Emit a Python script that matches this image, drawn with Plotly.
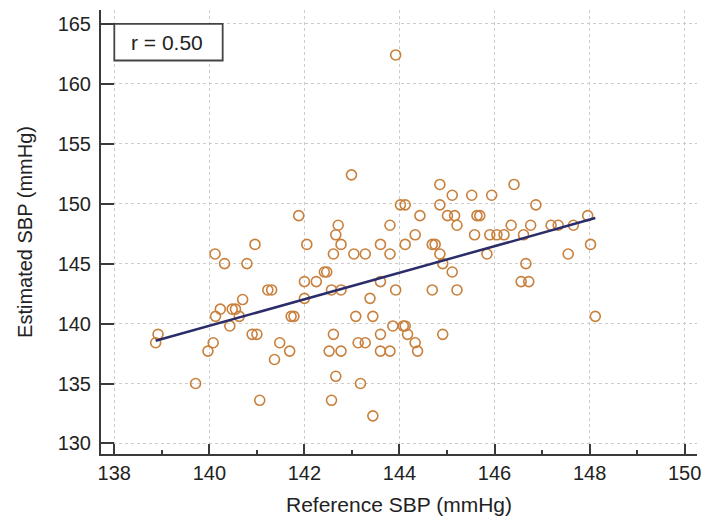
import numpy as np
import plotly.graph_objects as go

# Reference vs. estimated systolic blood pressure (mmHg)
reference_sbp = [
    138.87, 138.92, 139.71, 139.97, 140.08, 140.12, 140.13, 140.23, 140.32, 140.43,
    140.48, 140.55, 140.63, 140.70, 140.79, 140.90, 140.96, 141.00, 141.06, 141.23,
    141.31, 141.37, 141.48, 141.69, 141.72, 141.78, 141.88, 142.00, 142.00, 142.05,
    142.25, 142.42, 142.47, 142.52, 142.57, 142.57, 142.61, 142.61, 142.66, 142.66,
    142.71, 142.77, 142.77, 142.77, 142.99, 143.04, 143.08, 143.13, 143.18, 143.28,
    143.28, 143.38, 143.44, 143.44, 143.60, 143.60, 143.60, 143.60, 143.80, 143.80,
    143.80, 143.86, 143.92, 143.92, 144.02, 144.08, 144.12, 144.12, 144.12, 144.17,
    144.33, 144.33, 144.38, 144.43, 144.69, 144.69, 144.75, 144.85, 144.85, 144.85,
    144.91, 144.91, 145.01, 145.11, 145.11, 145.16, 145.21, 145.21, 145.52, 145.58,
    145.63, 145.69, 145.84, 145.90, 145.94, 146.05, 146.20, 146.35, 146.41, 146.56,
    146.61, 146.66, 146.72, 146.76, 146.87, 147.19, 147.34, 147.55, 147.66, 147.96,
    148.02, 148.12,
]
estimated_sbp = [
    138.4, 139.1, 135.0, 137.7, 138.4, 145.8, 140.6, 141.2, 145.0, 139.8,
    141.2, 141.2, 140.6, 142.0, 145.0, 139.1, 146.6, 139.1, 133.6, 142.8,
    142.8, 137.0, 138.4, 137.7, 140.6, 140.6, 149.0, 143.5, 142.1, 146.6,
    143.5, 144.3, 144.3, 137.7, 133.6, 142.8, 145.8, 139.1, 147.4, 135.6,
    148.2, 146.6, 142.8, 137.7, 152.4, 145.8, 140.6, 138.4, 135.0, 145.8,
    138.4, 142.1, 140.6, 132.3, 146.6, 143.5, 139.1, 137.7, 148.2, 145.8,
    137.7, 139.8, 162.4, 142.8, 149.9, 139.8, 149.9, 146.6, 139.8, 139.1,
    147.4, 138.4, 137.7, 149.0, 146.6, 142.8, 146.6, 151.6, 149.9, 145.8,
    145.0, 139.1, 149.0, 150.7, 144.3, 149.0, 148.2, 142.8, 150.7, 147.4,
    149.0, 149.0, 145.8, 147.4, 150.7, 147.4, 147.4, 148.2, 151.6, 143.5,
    147.4, 145.0, 143.5, 148.2, 149.9, 148.2, 148.2, 145.8, 148.2, 149.0,
    146.6, 140.6,
]
correlation_label = "r = 0.50"

x_ticks = [138, 140, 142, 144, 146, 148, 150]
y_ticks = [130, 135, 140, 145, 150, 155, 160, 165]

# Least-squares regression line across the observed reference range
slope, intercept = np.polyfit(reference_sbp, estimated_sbp, 1)
fit_x = np.array([min(reference_sbp), max(reference_sbp)])
fit_y = intercept + slope * fit_x

AXIS_COLOR = "#3a3a3a"
GRID_COLOR = "#cccccc"
FONT = "Liberation Sans, Arial, sans-serif"

fig = go.Figure()
fig.add_trace(go.Scatter(
    x=reference_sbp, y=estimated_sbp, mode="markers",
    marker=dict(symbol="circle-open", size=10,
                line=dict(color="#C8803C", width=1.6), color="#C8803C"),
    showlegend=False, hoverinfo="x+y",
))
fig.add_trace(go.Scatter(
    x=fit_x, y=fit_y, mode="lines",
    line=dict(color="#2B2D6B", width=2.5),
    showlegend=False, hoverinfo="skip",
))

axis_common = dict(
    showline=True, linecolor=AXIS_COLOR, linewidth=2,
    ticks="inside", tickcolor=AXIS_COLOR, tickwidth=2,
    showgrid=True, gridcolor=GRID_COLOR, gridwidth=1, griddash="dot",
    zeroline=False, mirror=False, automargin=False,
    tickfont=dict(family=FONT, size=20, color="#222222"),
)

fig.update_xaxes(
    **axis_common,
    range=[137.72, 150.26], tickvals=x_ticks, ticklen=10,
    minor=dict(dtick=1, tick0=137, ticks="inside", ticklen=4,
               tickcolor=AXIS_COLOR, tickwidth=1.5, showgrid=False),
    ticklabelstandoff=0,
    title_text="Reference SBP (mmHg)", title_standoff=14,
    title_font=dict(family=FONT, size=21, color="#222222"),
)
fig.update_yaxes(
    **axis_common,
    range=[129.12, 166.15], tickvals=y_ticks, ticklen=13,
    ticklabelstandoff=4,
    title_text="Estimated SBP (mmHg)", title_standoff=20,
    title_font=dict(family=FONT, size=20, color="#222222"),
)

# Correlation coefficient box in the upper-left corner
fig.add_shape(type="rect", xref="x", yref="y",
              x0=138.0, x1=140.28, y0=161.94, y1=165.0,
              line=dict(color="#444444", width=1.8), fillcolor="white",
              layer="above")
fig.add_annotation(xref="x", yref="y", x=139.1, y=163.47,
                   text=correlation_label, showarrow=False,
                   font=dict(family=FONT, size=21, color="#222222"))

fig.update_layout(
    width=704, height=518,
    margin=dict(l=101, r=7, t=10, b=64),
    plot_bgcolor="white", paper_bgcolor="white",
)

fig.write_html("out.html")
